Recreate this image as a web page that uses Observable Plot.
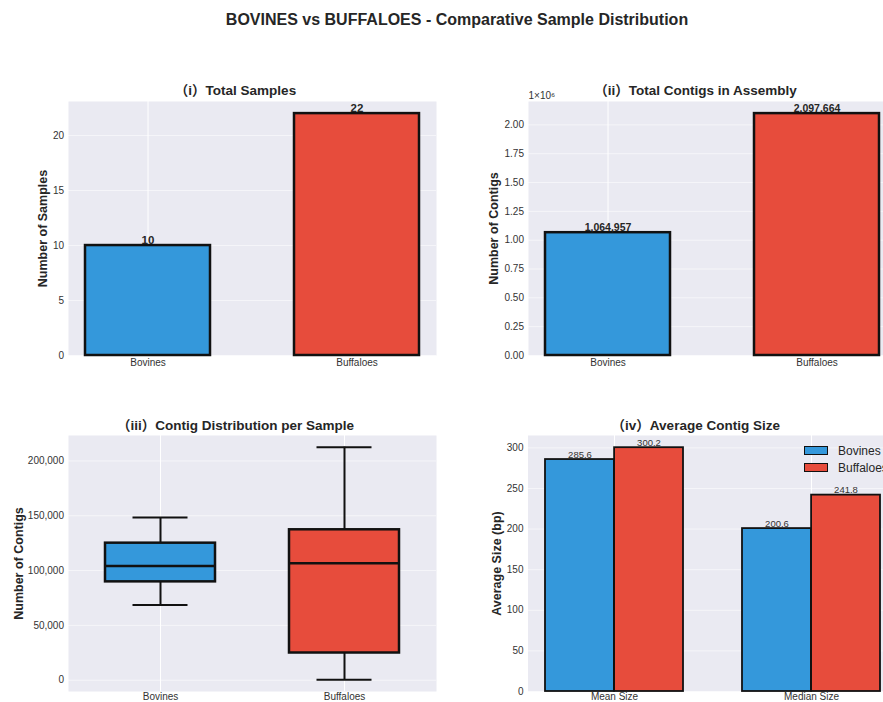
<!DOCTYPE html>
<html>
<head>
<meta charset="utf-8">
<script src="https://cdn.jsdelivr.net/npm/d3@7"></script>
<script src="https://cdn.jsdelivr.net/npm/@observablehq/plot@0.6"></script>
<style>
  body { margin: 0; background: #fff; overflow: hidden; font-family: "Liberation Sans", Arial, "Noto Sans CJK SC", sans-serif; }
  #root { position: relative; width: 883px; height: 702px; overflow: hidden; background: #fff; }
  #suptitle { position: absolute; left: 0; top: 10px; width: 914px; text-align: center; font-weight: bold; font-size: 16px; line-height: 20px; color: #262626; }
  .legend { position: absolute; left: 804px; top: 442px; font-size: 12px; color: #262626; }
  .legend .row { display: flex; align-items: center; height: 17px; white-space: nowrap; }
  .legend .sw { width: 22px; height: 7px; border: 1.3px solid #111; margin-right: 10px; box-sizing: content-box; }
</style>
</head>
<body>
<div id="root">
  <div id="suptitle">BOVINES vs BUFFALOES - Comparative Sample Distribution</div>
</div>
<script>
// ---------------- data ----------------
const species = ["Bovines", "Buffaloes"];
const seriesColors = ["#3498db", "#e74c3c"];

const totalSamples = [10, 22];
const totalContigs = [1064957, 2097664];

const boxLow = [68600, 300];
const boxQ1 = [89700, 24800];
const boxMedian = [104100, 106600];
const boxQ3 = [125000, 137200];
const boxHigh = [148300, 212600];

const sizeMetrics = ["Mean Size", "Median Size"];
const bovineSizes = [285.6, 200.6];
const buffaloSizes = [300.2, 241.8];

const ticksSamples = [0, 5, 10, 15, 20];
const ticksContigs = [0, 250000, 500000, 750000, 1000000, 1250000, 1500000, 1750000, 2000000];
const ticksBox = [0, 50000, 100000, 150000, 200000];
const ticksSize = [0, 50, 100, 150, 200, 250, 300];

const panelTitles = ["（i）Total Samples", "（ii）Total Contigs in Assembly", "（iii）Contig Distribution per Sample", "（iv）Average Contig Size"];
const yLabels = ["Number of Samples", "Number of Contigs", "Number of Contigs", "Average Size (bp)"];

// ---------------- helpers ----------------
const FONT = '"Liberation Sans", Arial, "Noto Sans CJK SC", sans-serif';
const BG = "#eaeaf2";
const INK = "#262626";
const root = document.getElementById("root");

function place(svg, left, top) {
  svg.style.position = "absolute";
  svg.style.left = left + "px";
  svg.style.top = top + "px";
  root.appendChild(svg);
}
const baseStyle = { fontFamily: FONT, fontSize: "10px", color: "#333", background: "transparent", overflow: "visible" };
const colorScale = { domain: species, range: seriesColors };

function titleMark(t, dy) {
  return Plot.text([t], { text: d => d, frameAnchor: "top", lineAnchor: "middle", textAnchor: "middle", dy, dx: -17, fontWeight: "bold", fontSize: 13.5, fill: INK });
}
function yLabelMark(t, dx) {
  return Plot.text([t], { text: d => d, frameAnchor: "left", textAnchor: "middle", lineAnchor: "middle", rotate: -90, dx, fontWeight: "bold", fontSize: 12.5, fill: INK });
}

// ---------------- panel (i) ----------------
const samplesRows = species.map((s, i) => ({ species: s, value: totalSamples[i] }));
place(Plot.plot({
  width: 450, height: 300,
  marginLeft: 68, marginRight: 14, marginTop: 21, marginBottom: 25,
  style: baseStyle,
  x: { type: "band", domain: species, paddingInner: 0.4, paddingOuter: 0.08, label: null },
  y: { domain: [0, d3.max(totalSamples) * 1.05], label: null },
  color: colorScale,
  marks: [
    Plot.frame({ fill: BG, stroke: "none" }),
    Plot.gridY(ticksSamples, { stroke: "white", strokeOpacity: 0.55, strokeWidth: 1 }),
    Plot.gridX({ stroke: "white", strokeOpacity: 1, strokeWidth: 1 }),
    Plot.barY(samplesRows, { x: "species", y: "value", fill: "species", stroke: "#111", strokeWidth: 2.5 }),
    Plot.text(samplesRows, { x: "species", y: "value", text: d => String(d.value), lineAnchor: "bottom", dy: -2, fontWeight: "bold", fontSize: 11.5, fill: INK }),
    Plot.axisY(ticksSamples, { tickSize: 0, tickPadding: 4.5, label: null }),
    Plot.axisX({ tickSize: 0, tickPadding: 3, label: null }),
    yLabelMark(yLabels[0], -26),
    titleMark(panelTitles[0], -11)
  ]
}), 0, 80);

// ---------------- panel (ii) ----------------
const contigRows = species.map((s, i) => ({ species: s, value: totalContigs[i] }));
place(Plot.plot({
  width: 456, height: 300,
  marginLeft: 88, marginRight: 0, marginTop: 21, marginBottom: 25,
  style: baseStyle,
  x: { type: "band", domain: species, paddingInner: 0.4, paddingOuter: 0.08, label: null },
  y: { domain: [0, d3.max(totalContigs) * 1.05], label: null },
  color: colorScale,
  marks: [
    Plot.frame({ fill: BG, stroke: "none" }),
    Plot.gridY(ticksContigs, { stroke: "white", strokeOpacity: 0.55, strokeWidth: 1 }),
    Plot.gridX({ stroke: "white", strokeOpacity: 1, strokeWidth: 1 }),
    Plot.barY(contigRows, { x: "species", y: "value", fill: "species", stroke: "#111", strokeWidth: 2.5 }),
    Plot.text(contigRows, { x: "species", y: "value", text: d => d3.format(",")(d.value), lineAnchor: "bottom", dy: -2, fontWeight: "bold", fontSize: 10.5, fill: INK }),
    Plot.axisY(ticksContigs, { tickSize: 0, tickPadding: 4.5, label: null, tickFormat: d => (d / 1e6).toFixed(2) }),
    Plot.axisX({ tickSize: 0, tickPadding: 3, label: null }),
    Plot.text(["1×10⁶"], { text: d => d, frameAnchor: "top-left", textAnchor: "start", lineAnchor: "bottom", dy: -3, fontSize: 10, fill: "#333" }),
    yLabelMark(yLabels[1], -35),
    titleMark(panelTitles[1], -11)
  ]
}), 440, 80);

// ---------------- panel (iii) ----------------
const boxRows = species.map((s, i) => ({ species: s, low: boxLow[i], q1: boxQ1[i], median: boxMedian[i], q3: boxQ3[i], high: boxHigh[i] }));
const boxSpan = d3.max(boxHigh) - d3.min(boxLow);
place(Plot.plot({
  width: 450, height: 292,
  marginLeft: 68, marginRight: 14, marginTop: 25, marginBottom: 11,
  style: baseStyle,
  x: { type: "band", domain: species, paddingInner: 0.4, paddingOuter: 0.2, label: null },
  y: { domain: [d3.min(boxLow) - boxSpan * 0.05, d3.max(boxHigh) + boxSpan * 0.05], label: null },
  color: colorScale,
  marks: [
    Plot.frame({ fill: BG, stroke: "none" }),
    Plot.gridY(ticksBox, { stroke: "white", strokeOpacity: 0.55, strokeWidth: 1 }),
    Plot.gridX({ stroke: "white", strokeOpacity: 1, strokeWidth: 1 }),
    Plot.ruleX(boxRows, { x: "species", y1: "low", y2: "q1", stroke: "#111", strokeWidth: 2 }),
    Plot.ruleX(boxRows, { x: "species", y1: "q3", y2: "high", stroke: "#111", strokeWidth: 2 }),
    Plot.tickY(boxRows, { x: "species", y: "low", stroke: "#111", strokeWidth: 2, insetLeft: 27.5, insetRight: 27.5 }),
    Plot.tickY(boxRows, { x: "species", y: "high", stroke: "#111", strokeWidth: 2, insetLeft: 27.5, insetRight: 27.5 }),
    Plot.barY(boxRows, { x: "species", y1: "q1", y2: "q3", fill: "species", stroke: "#111", strokeWidth: 2.5 }),
    Plot.tickY(boxRows, { x: "species", y: "median", stroke: "#111", strokeWidth: 2.5 }),
    Plot.axisY(ticksBox, { tickSize: 0, tickPadding: 4.5, label: null, tickFormat: d3.format(",") }),
    Plot.axisX({ tickSize: 0, tickPadding: 1.5, label: null }),
    yLabelMark(yLabels[2], -50),
    titleMark(panelTitles[2], -9.5)
  ]
}), 0, 410);

// ---------------- panel (iv) ----------------
const bovRows = sizeMetrics.map((m, i) => ({ metric: m, value: bovineSizes[i] }));
const bufRows = sizeMetrics.map((m, i) => ({ metric: m, value: buffaloSizes[i] }));
place(Plot.plot({
  width: 457, height: 292,
  marginLeft: 87.5, marginRight: 0, marginTop: 25, marginBottom: 11,
  style: baseStyle,
  x: { type: "band", domain: sizeMetrics, paddingInner: 0.3, paddingOuter: 0.0845, label: null },
  y: { domain: [0, d3.max(buffaloSizes.concat(bovineSizes)) * 1.05], label: null },
  marks: [
    Plot.frame({ fill: BG, stroke: "none" }),
    Plot.gridY(ticksSize, { stroke: "white", strokeOpacity: 0.55, strokeWidth: 1 }),
    Plot.gridX({ stroke: "white", strokeOpacity: 1, strokeWidth: 1 }),
    Plot.barY(bovRows, { x: "metric", y: "value", fill: seriesColors[0], stroke: "#111", strokeWidth: 1.8, insetRight: 69.1 }),
    Plot.barY(bufRows, { x: "metric", y: "value", fill: seriesColors[1], stroke: "#111", strokeWidth: 1.8, insetLeft: 69.1 }),
    Plot.text(bovRows, { x: "metric", y: "value", text: d => d.value.toFixed(1), dx: -34.5, lineAnchor: "bottom", dy: -2, fontSize: 9.5, fill: "#333" }),
    Plot.text(bufRows, { x: "metric", y: "value", text: d => d.value.toFixed(1), dx: 34.5, lineAnchor: "bottom", dy: -2, fontSize: 9.5, fill: "#333" }),
    Plot.axisY(ticksSize, { tickSize: 0, tickPadding: 4.5, label: null }),
    Plot.axisX({ tickSize: 0, tickPadding: 1.5, label: null }),
    yLabelMark(yLabels[3], -31),
    titleMark(panelTitles[3], -9.5)
  ]
}), 440, 410);

// ---------------- legend (iv) ----------------
const legend = document.createElement("div");
legend.className = "legend";
species.forEach((s, i) => {
  const row = document.createElement("div");
  row.className = "row";
  const sw = document.createElement("div");
  sw.className = "sw";
  sw.style.background = seriesColors[i];
  const lab = document.createElement("span");
  lab.textContent = s;
  row.appendChild(sw);
  row.appendChild(lab);
  legend.appendChild(row);
});
root.appendChild(legend);
</script>
</body>
</html>
